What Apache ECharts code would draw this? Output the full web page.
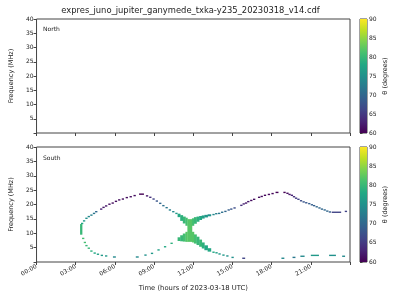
<!DOCTYPE html>
<html><head><meta charset="utf-8">
<script src="https://cdn.jsdelivr.net/npm/echarts@6/dist/echarts.min.js"></script>
<style>html,body{margin:0;padding:0;background:#fff}#c{width:400px;height:300px}</style>
</head><body><div id="c"></div>
<script>
// ---- data (hours of day, MHz, degrees) ----
const xTickHours = [0, 3, 6, 9, 12, 15, 18, 21];
const thetaTicks = [60, 65, 70, 75, 80, 85, 90];

// single marks
const pointT = [3.48,3.63,3.81,3.99,4.19,4.39,4.56,4.94,5.12,5.32,5.57,5.82,6.07,6.32,6.6,6.9,7.2,7.5,
  8.45,8.7,8.95,9.2,9.46,9.7,9.95,10.2,10.46,10.7,
  3.56,3.69,3.81,3.99,4.19,4.44,4.69,4.99,5.32,8.33,8.83,9.33,9.83,10.33,
  13.54,13.75,13.97,14.2,14.45,14.7,14.9,15.15,15.67,15.85,16.03,16.2,16.43,16.65,17.03,17.23,17.48,17.78,18.06,
  19.2,19.36,19.54,19.7,19.86,20.04,20.24,20.44,20.64,20.87,21.07,21.24,21.44,21.65,21.84,22.05,22.25,22.45,
  13.54,13.77,14.0,14.3,14.6,15.0];
const pointF = [13.4,14.3,15.2,15.8,16.3,16.9,17.5,18.4,19.0,19.5,20.1,20.5,21.1,21.6,21.9,22.4,22.7,23.1,
  23.0,22.5,21.9,21.2,20.4,19.6,18.9,18.1,17.5,16.9,
  8.2,6.8,5.7,4.8,3.8,3.1,2.7,2.3,2.1,2.4,3.0,4.2,5.3,6.5,
  16.5,16.8,16.9,17.3,17.6,18.1,18.4,18.8,19.7,20.2,20.5,21.0,21.4,21.8,22.5,22.8,23.2,23.5,23.8,
  23.9,23.5,23.2,22.7,22.2,21.8,21.3,20.9,20.6,20.3,19.9,19.6,19.2,18.8,18.4,18.1,17.7,17.4,
  3.4,3.2,2.8,2.4,2.1,1.6];
const pointTheta = [78,76,75,74,73,72,70,63,62,62,61,61,61,61,61,61,61,61,
  62,64,66,68,70,71,72,73,74,76,
  81,81,80,80,79,78,77,76,76,75,76,77,78,79,
  74,73,72,71,70,69,68,67,64,63,62,62,61,61,61,61,60.5,60.5,60.5,
  61,62,63,64,65,66,67,68,68,69,69,69,70,70,70,70,70,69,
  78,77,76,76,75,75];

// extended marks: time span x frequency span
const segT0 = [3.36,7.85,18.3,18.9,22.6,23.6,5.85,7.6,15.75,18.75,19.6,20.2,21.0,22.4,23.4,
  10.8,11.0,11.2,11.4,11.55,11.9,11.4,11.2,11.0,10.8,11.9,12.05,12.05,12.25,12.25,12.45,12.45,12.65,12.65,12.85,12.85,13.1,13.1];
const segT1 = [3.46,8.2,18.5,19.05,23.3,23.75,6.05,7.8,15.95,18.95,19.8,20.5,21.6,22.9,23.6,
  11.0,11.2,11.4,11.55,11.9,12.05,11.55,11.4,11.2,11.0,12.05,12.25,12.25,12.45,12.45,12.65,12.65,12.85,12.85,13.1,13.1,13.35,13.35];
const segF0 = [9.5,23.6,24.2,24.2,17.3,17.6,1.74,1.74,1.3,1.3,1.6,2.0,2.3,2.3,2.0,
  15.6,14.3,13.4,12.6,7.0,12.6,7.0,7.1,7.2,7.3,6.8,13.3,6.4,14.0,5.9,14.6,5.3,15.1,4.7,15.5,4.1,15.9,3.6];
const segF1 = [13.2,23.6,24.2,24.2,17.3,17.6,1.74,1.74,1.3,1.3,1.6,2.0,2.3,2.3,2.0,
  16.8,16.3,15.8,15.4,14.9,15.2,10.5,9.9,9.3,8.6,10.5,15.6,9.6,15.8,8.8,16.0,7.8,16.2,6.8,16.4,5.8,16.6,4.8];
const segTheta = [80,60,60,60,66,66,74,74,66,74,72,74,76,75,74,
  78,79,80,81,82,81,82,81,80,80,82,80,81,79,80,78,80,77,79,76,78,75,78];

// ---- chart ----
const VIRIDIS = ['#440154','#482475','#414487','#355f8d','#2a788e','#21918c','#22a884','#44bf70','#7ad151','#bddf26','#fde725'];
const FONT = 'DejaVu Sans';
const TXT = '#222';
const LINE = '#444';

const marks = [];
pointT.forEach((t, i) => marks.push([t, t, pointF[i], pointF[i], pointTheta[i]]));
segT0.forEach((t, i) => marks.push([t, segT1[i], segF0[i], segF1[i], segTheta[i]]));

function pad(n){ return (n < 10 ? '0' : '') + n; }

function renderMark(params, api) {
  const a = api.coord([api.value(0), api.value(3)]);
  const b = api.coord([api.value(1), api.value(2)]);
  let x0 = a[0], y0 = a[1], w = b[0] - a[0], h = b[1] - a[1];
  if (w < 2) { const c = (a[0] + b[0]) / 2; x0 = c - 1; w = 2; }
  if (h < 1.4) { const c = (a[1] + b[1]) / 2; y0 = c - 0.7; h = 1.4; }
  return { type: 'rect', shape: { x: x0, y: y0, width: w + 0.3, height: h }, style: { fill: api.visual('color') } };
}
function renderBar(params, api) {
  const a = api.coord([0, 90]);
  const b = api.coord([1, 60]);
  const stops = VIRIDIS.slice().reverse().map((c, i, arr) => ({ offset: i / (arr.length - 1), color: c }));
  return { type: 'rect', shape: { x: a[0], y: a[1], width: b[0] - a[0], height: b[1] - a[1] },
    style: { fill: new echarts.graphic.LinearGradient(0, 0, 0, 1, stops) } };
}

const gridBase = { show: true, borderColor: LINE, borderWidth: 1, backgroundColor: 'transparent' };
const grids = [
  Object.assign({ left: 31, top: 19, width: 319, height: 114 }, gridBase),
  Object.assign({ left: 31, top: 147, width: 319, height: 115 }, gridBase),
  Object.assign({ left: 360, top: 19, width: 7, height: 114 }, gridBase),
  Object.assign({ left: 360, top: 147, width: 7, height: 115 }, gridBase)
];

function timeAxis(gi, labels) {
  return {
    gridIndex: gi, type: 'value', min: 0, max: 24, interval: 3,
    axisLine: { show: false }, splitLine: { show: false },
    axisTick: { show: true, length: 3, lineStyle: { color: LINE } },
    axisLabel: {
      show: labels, rotate: 30, margin: 4, fontSize: 6, fontFamily: FONT, color: TXT,
      formatter: v => (xTickHours.indexOf(v) >= 0 ? pad(v) + ':00' : '')
    },
    name: labels ? 'Time (hours of 2023-03-18 UTC)' : '', nameLocation: 'middle', nameGap: 23,
    nameTextStyle: { fontSize: 6.8, fontFamily: FONT, color: TXT }
  };
}
function freqAxis(gi) {
  return {
    gridIndex: gi, type: 'value', min: 0, max: 40, interval: 5,
    axisLine: { show: false }, splitLine: { show: false },
    axisTick: { show: true, length: 3, lineStyle: { color: LINE } },
    axisLabel: { margin: 3, fontSize: 6, fontFamily: FONT, color: TXT, formatter: v => (v === 0 ? '' : String(v)) },
    name: 'Frequency (MHz)', nameLocation: 'middle', nameGap: 17, nameRotate: 90,
    nameTextStyle: { fontSize: 6.5, fontFamily: FONT, color: TXT }
  };
}
function cbXAxis(gi) { return { gridIndex: gi, type: 'value', min: 0, max: 1, show: false }; }
function cbYAxis(gi) {
  return {
    gridIndex: gi, type: 'value', position: 'right', min: 60, max: 90, interval: 5,
    axisLine: { show: false }, splitLine: { show: false },
    axisTick: { show: true, length: 2.5, lineStyle: { color: LINE } },
    axisLabel: { margin: 2, fontSize: 6, fontFamily: FONT, color: TXT,
      formatter: v => (thetaTicks.indexOf(v) >= 0 ? String(v) : '') },
    name: 'θ (degrees)', nameLocation: 'middle', nameGap: 15, nameRotate: 90,
    nameTextStyle: { fontSize: 6.5, fontFamily: FONT, color: TXT }
  };
}

const chart = echarts.init(document.getElementById('c'), null, { renderer: 'canvas' });
chart.setOption({
  animation: false,
  backgroundColor: '#fff',
  grid: grids,
  xAxis: [timeAxis(0, false), timeAxis(1, true), cbXAxis(2), cbXAxis(3)],
  yAxis: [freqAxis(0), freqAxis(1), cbYAxis(2), cbYAxis(3)],
  visualMap: [{ type: 'continuous', show: false, min: 60, max: 90, dimension: 4, seriesIndex: 0,
    inRange: { color: VIRIDIS } }],
  graphic: [
    { type: 'text', style: { text: 'expres_juno_jupiter_ganymede_txka-y235_20230318_v14.cdf',
      fontSize: 8.4, fontFamily: FONT, fill: TXT, x: 190.5, y: 11, align: 'center', verticalAlign: 'middle' } },
    { type: 'text', style: { text: 'North', x: 43, y: 29.5, fontSize: 6, fontFamily: FONT, fill: TXT, verticalAlign: 'middle' } },
    { type: 'text', style: { text: 'South', x: 43, y: 158.3, fontSize: 6, fontFamily: FONT, fill: TXT, verticalAlign: 'middle' } }
  ],
  series: [
    { type: 'custom', xAxisIndex: 1, yAxisIndex: 1, renderItem: renderMark, data: marks,
      encode: { x: [0, 1], y: [2, 3] }, silent: true },
    { type: 'custom', xAxisIndex: 2, yAxisIndex: 2, renderItem: renderBar, data: [[0.5, 75]], silent: true },
    { type: 'custom', xAxisIndex: 3, yAxisIndex: 3, renderItem: renderBar, data: [[0.5, 75]], silent: true }
  ]
});
</script></body></html>
